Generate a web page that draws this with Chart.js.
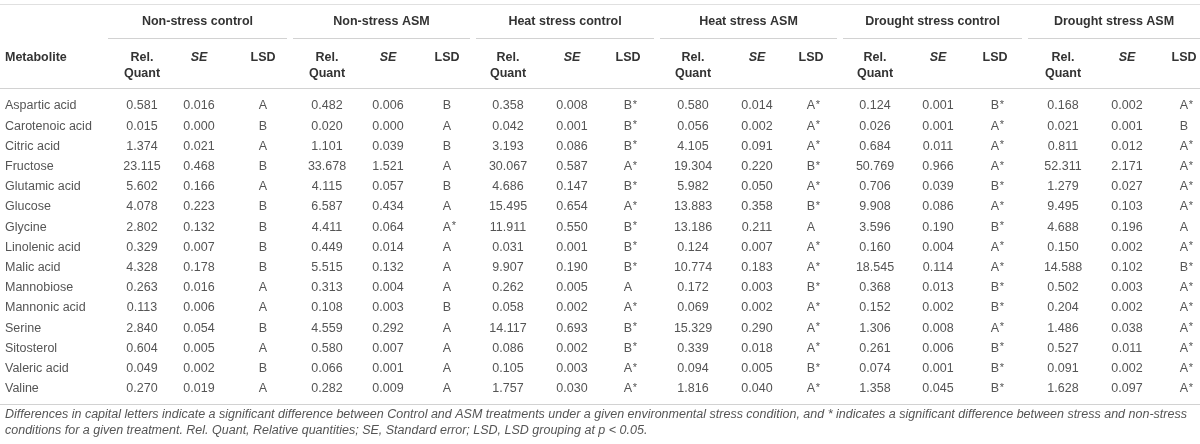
<!DOCTYPE html>
<html>
<head>
<meta charset="utf-8">
<script src="https://cdn.jsdelivr.net/npm/chart.js@4.4.1/dist/chart.umd.min.js"></script>
<style>
  body { margin: 0; background: #fff; }
  canvas { display: block; }
</style>
</head>
<body>
<canvas id="table" width="1200" height="444"></canvas>
<script>
// table data
const metabolites = ["Aspartic acid", "Carotenoic acid", "Citric acid", "Fructose", "Glutamic acid",
    "Glucose", "Glycine", "Linolenic acid", "Malic acid", "Mannobiose", "Mannonic acid",
    "Serine", "Sitosterol", "Valeric acid", "Valine"];

const groupNames = ["Non-stress control", "Non-stress ASM", "Heat stress control",
    "Heat stress ASM", "Drought stress control", "Drought stress ASM"];

const nsCtrlQuant = [0.581, 0.015, 1.374, 23.115, 5.602, 4.078, 2.802, 0.329, 4.328, 0.263, 0.113, 2.840, 0.604, 0.049, 0.270];
const nsCtrlSE = [0.016, 0.000, 0.021, 0.468, 0.166, 0.223, 0.132, 0.007, 0.178, 0.016, 0.006, 0.054, 0.005, 0.002, 0.019];
const nsCtrlLSD = ["A", "B", "A", "B", "A", "B", "B", "B", "B", "A", "A", "B", "A", "B", "A"];

const nsAsmQuant = [0.482, 0.020, 1.101, 33.678, 4.115, 6.587, 4.411, 0.449, 5.515, 0.313, 0.108, 4.559, 0.580, 0.066, 0.282];
const nsAsmSE = [0.006, 0.000, 0.039, 1.521, 0.057, 0.434, 0.064, 0.014, 0.132, 0.004, 0.003, 0.292, 0.007, 0.001, 0.009];
const nsAsmLSD = ["B", "A", "B", "A", "B", "A", "A*", "A", "A", "A", "B", "A", "A", "A", "A"];

const heatCtrlQuant = [0.358, 0.042, 3.193, 30.067, 4.686, 15.495, 11.911, 0.031, 9.907, 0.262, 0.058, 14.117, 0.086, 0.105, 1.757];
const heatCtrlSE = [0.008, 0.001, 0.086, 0.587, 0.147, 0.654, 0.550, 0.001, 0.190, 0.005, 0.002, 0.693, 0.002, 0.003, 0.030];
const heatCtrlLSD = ["B*", "B*", "B*", "A*", "B*", "A*", "B*", "B*", "B*", "A", "A*", "B*", "B*", "A*", "A*"];

const heatAsmQuant = [0.580, 0.056, 4.105, 19.304, 5.982, 13.883, 13.186, 0.124, 10.774, 0.172, 0.069, 15.329, 0.339, 0.094, 1.816];
const heatAsmSE = [0.014, 0.002, 0.091, 0.220, 0.050, 0.358, 0.211, 0.007, 0.183, 0.003, 0.002, 0.290, 0.018, 0.005, 0.040];
const heatAsmLSD = ["A*", "A*", "A*", "B*", "A*", "B*", "A", "A*", "A*", "B*", "A*", "A*", "A*", "B*", "A*"];

const drCtrlQuant = [0.124, 0.026, 0.684, 50.769, 0.706, 9.908, 3.596, 0.160, 18.545, 0.368, 0.152, 1.306, 0.261, 0.074, 1.358];
const drCtrlSE = [0.001, 0.001, 0.011, 0.966, 0.039, 0.086, 0.190, 0.004, 0.114, 0.013, 0.002, 0.008, 0.006, 0.001, 0.045];
const drCtrlLSD = ["B*", "A*", "A*", "A*", "B*", "A*", "B*", "A*", "A*", "B*", "B*", "A*", "B*", "B*", "B*"];

const drAsmQuant = [0.168, 0.021, 0.811, 52.311, 1.279, 9.495, 4.688, 0.150, 14.588, 0.502, 0.204, 1.486, 0.527, 0.091, 1.628];
const drAsmSE = [0.002, 0.001, 0.012, 2.171, 0.027, 0.103, 0.196, 0.002, 0.102, 0.003, 0.002, 0.038, 0.011, 0.002, 0.097];
const drAsmLSD = ["A*", "B", "A*", "A*", "A*", "A*", "A", "A*", "B*", "A*", "A*", "A*", "A*", "A*", "A*"];

const footnote = [
    "Differences in capital letters indicate a significant difference between Control and ASM treatments under a given environmental stress condition, and * indicates a significant difference between stress and non-stress",
    "conditions for a given treatment. Rel. Quant, Relative quantities; SE, Standard error; LSD, LSD grouping at p < 0.05."
];

// layout (x in canvas units, y in row units)
const groupStart = [108, 293, 476, 660, 843, 1028];
const groupEnd = [287, 470, 654, 837, 1022, 1200];
const colQuant = [142, 327, 508, 693, 875, 1063];
const colSE = [199, 388, 572, 757, 938, 1127];
const colLSD = [263, 447, 628, 811, 995, 1184];
const NAME_X = 5;
const ROW_H = 20.2;
const FIRST_ROW_PX = 106;
const Y_MIN = -FIRST_ROW_PX / ROW_H;
const Y_MAX = Y_MIN + 444 / ROW_H;
const TOP_RULE = -5.05, GROUP_ROW = -4.16, GROUP_RULE = -3.37;
const SUB1 = -2.4, SUB2 = -1.6, HEAD_RULE = -0.9;
const BOTTOM_RULE = 14.75, NOTE1 = 15.25, NOTE2 = 16.05;

const FONT = '"Liberation Sans", Arial, Helvetica, sans-serif';
const BODY_COLOR = '#555';
const HEAD_COLOR = '#333';

const groups = [
    [nsCtrlQuant, nsCtrlSE, nsCtrlLSD],
    [nsAsmQuant, nsAsmSE, nsAsmLSD],
    [heatCtrlQuant, heatCtrlSE, heatCtrlLSD],
    [heatAsmQuant, heatAsmSE, heatAsmLSD],
    [drCtrlQuant, drCtrlSE, drCtrlLSD],
    [drAsmQuant, drAsmSE, drAsmLSD]
];

function column(x, texts, kind) {
    return {
        label: kind,
        kind: kind,
        texts: texts,
        data: texts.map((t, i) => ({ x: x, y: i })),
        pointRadius: 0,
        showLine: false
    };
}

const datasets = [column(NAME_X, metabolites, 'name')];
groups.forEach((g, k) => {
    datasets.push(column(colQuant[k], g[0].map(v => v.toFixed(3)), 'num'));
    datasets.push(column(colSE[k], g[1].map(v => v.toFixed(3)), 'num'));
    datasets.push(column(colLSD[k], g[2], 'lsd'));
});

function hLine(ctx, chart, x0, x1, yv, color) {
    const y = Math.round(chart.scales.y.getPixelForValue(yv)) + 0.5;
    ctx.strokeStyle = color;
    ctx.lineWidth = 1;
    ctx.beginPath();
    ctx.moveTo(chart.scales.x.getPixelForValue(x0), y);
    ctx.lineTo(chart.scales.x.getPixelForValue(x1), y);
    ctx.stroke();
}

const tablePlugin = {
    id: 'tablePlugin',
    beforeDraw(chart) {
        const ctx = chart.ctx;
        ctx.save();
        ctx.fillStyle = '#fff';
        ctx.fillRect(0, 0, chart.width, chart.height);
        ctx.restore();
    },
    beforeDatasetsDraw(chart) {
        const ctx = chart.ctx;
        const xs = chart.scales.x, ys = chart.scales.y;
        ctx.save();
        hLine(ctx, chart, 0, 1200, TOP_RULE, '#e0e0e0');
        groupStart.forEach((s, k) => hLine(ctx, chart, s, groupEnd[k], GROUP_RULE, '#d2d2d2'));
        hLine(ctx, chart, 0, 1200, HEAD_RULE, '#d2d2d2');
        hLine(ctx, chart, 0, 1200, BOTTOM_RULE, '#d2d2d2');

        ctx.fillStyle = HEAD_COLOR;
        ctx.textBaseline = 'middle';
        ctx.font = 'bold 12.5px ' + FONT;
        ctx.textAlign = 'center';
        groupNames.forEach((n, k) => {
            ctx.fillText(n, xs.getPixelForValue((groupStart[k] + groupEnd[k]) / 2), ys.getPixelForValue(GROUP_ROW));
        });
        ctx.textAlign = 'left';
        ctx.fillText('Metabolite', xs.getPixelForValue(NAME_X), ys.getPixelForValue(SUB1));
        ctx.textAlign = 'center';
        for (let k = 0; k < groupNames.length; k++) {
            ctx.font = 'bold 12.5px ' + FONT;
            ctx.fillText('Rel.', xs.getPixelForValue(colQuant[k]), ys.getPixelForValue(SUB1));
            ctx.fillText('Quant', xs.getPixelForValue(colQuant[k]), ys.getPixelForValue(SUB2));
            ctx.fillText('LSD', xs.getPixelForValue(colLSD[k]), ys.getPixelForValue(SUB1));
            ctx.font = 'italic bold 12.5px ' + FONT;
            ctx.fillText('SE', xs.getPixelForValue(colSE[k]), ys.getPixelForValue(SUB1));
        }

        ctx.font = 'italic 12.5px ' + FONT;
        ctx.fillStyle = BODY_COLOR;
        ctx.textAlign = 'left';
        ctx.fillText(footnote[0], xs.getPixelForValue(NAME_X), ys.getPixelForValue(NOTE1), 1190);
        ctx.fillText(footnote[1], xs.getPixelForValue(NAME_X), ys.getPixelForValue(NOTE2));
        ctx.restore();
    },
    afterDatasetsDraw(chart) {
        const ctx = chart.ctx;
        ctx.save();
        ctx.fillStyle = BODY_COLOR;
        ctx.textBaseline = 'middle';
        ctx.font = '12.5px ' + FONT;
        chart.data.datasets.forEach((ds, d) => {
            const meta = chart.getDatasetMeta(d);
            meta.data.forEach((el, i) => {
                const t = ds.texts[i];
                if (ds.kind === 'name') {
                    ctx.textAlign = 'left';
                    ctx.fillText(t, el.x, el.y);
                } else if (ds.kind === 'num') {
                    ctx.textAlign = 'center';
                    ctx.fillText(t, el.x, el.y);
                } else {
                    // letter centred on the column, asterisk hangs to the right
                    const letter = t.charAt(0);
                    const w = ctx.measureText(letter).width;
                    ctx.textAlign = 'left';
                    ctx.fillText(letter, el.x - w / 2, el.y);
                    if (t.length > 1) {
                        ctx.font = '11px ' + FONT;
                        ctx.fillText('*', el.x + w / 2 + 0.5, el.y - 1);
                        ctx.font = '12.5px ' + FONT;
                    }
                }
            });
        });
        ctx.restore();
    }
};

new Chart(document.getElementById('table'), {
    type: 'scatter',
    data: { datasets: datasets },
    options: {
        responsive: false,
        animation: false,
        events: [],
        layout: { padding: 0 },
        plugins: { legend: { display: false }, tooltip: { enabled: false } },
        scales: {
            x: { type: 'linear', display: false, min: 0, max: 1200 },
            y: { type: 'linear', display: false, reverse: true, min: Y_MIN, max: Y_MAX }
        }
    },
    plugins: [tablePlugin]
});
</script>
</body>
</html>
